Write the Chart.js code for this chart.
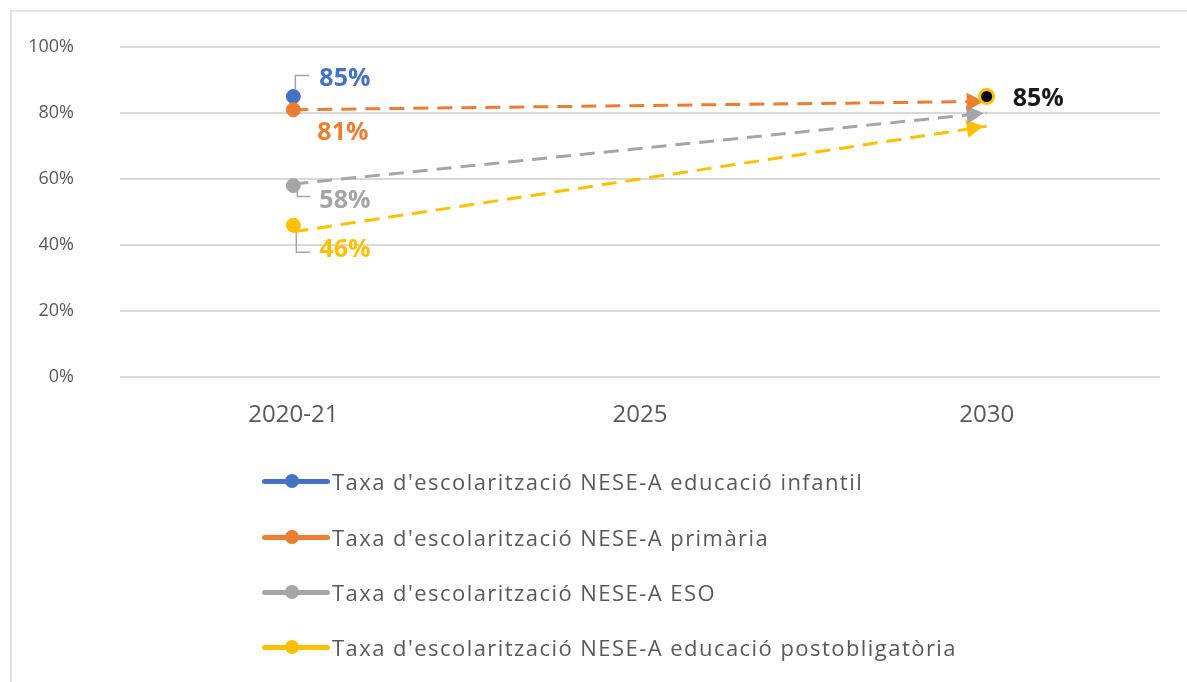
<!DOCTYPE html>
<html>
<head>
<meta charset="utf-8">
<script src="https://cdn.jsdelivr.net/npm/chart.js@4.4.1/dist/chart.umd.min.js"></script>
<style>
  html, body { margin: 0; padding: 0; background: #fff; }
  #wrap { position: relative; width: 1187px; height: 682px; overflow: hidden; }
  #frame { position: absolute; left: 10px; top: 10px; right: -5px; bottom: -5px; border-top: 2px solid #e3e3e3; border-left: 2px solid #e3e3e3; pointer-events: none; }
  #legend { position: absolute; left: 262px; top: 0; font-family: "Open Sans", sans-serif; font-size: 22px; letter-spacing: 1.45px; color: #595959; }
  .item { position: absolute; left: 0; height: 30px; display: flex; align-items: center; white-space: nowrap; }
  .mark { position: relative; width: 68px; height: 30px; margin-right: 2px; }
  .mark .ln { position: absolute; left: 0; right: 0; top: 13px; height: 5px; border-radius: 3px; }
  .mark .dt { position: absolute; left: 23px; top: 8px; width: 14px; height: 14px; border-radius: 50%; }
</style>
</head>
<body>
<div id="wrap">
  <canvas id="chart" width="1187" height="682"></canvas>
  <div id="frame"></div>
  <div id="legend"></div>
</div>
<script>
const categories = ['2020-21', '2025', '2030'];
const seriesNames = [
  "Taxa d'escolarització NESE-A educació infantil",
  "Taxa d'escolarització NESE-A primària",
  "Taxa d'escolarització NESE-A ESO",
  "Taxa d'escolarització NESE-A educació postobligatòria"
];
const seriesColors = ['#4472C4', '#ED7D31', '#A5A5A5', '#FFC000'];
// valors 2020-21
const values2021 = [85, 81, 58, 46];
// fletxes (primària, ESO, postobligatòria): inici 2020-21 i final 2030
const arrowStart = [81, 58.5, 44];
const arrowEnd = [83.5, 80, 76];
const arrowColors = ['#ED7D31', '#A5A5A5', '#FFC000'];
const target2030 = 85;
const yTicks = [0, 20, 40, 60, 80, 100];

// posicions de les etiquetes (desplaçament respecte del punt) i línies guia
const labelStyle = [
  { dx: 26, dy: -18, leader: [[2, -7], [2, -21], [16, -21]] },
  { dx: 24, dy: 23, leader: null },
  { dx: 26, dy: 15, leader: [[4, 5], [4, 11], [17, 11]] },
  { dx: 26, dy: 25, leader: [[3, 7], [3, 27], [17, 27]] }
];

const datasets = [];
values2021.forEach((v, i) => {
  datasets.push({
    label: seriesNames[i],
    data: [v, null, null],
    showLine: false,
    pointRadius: 7,
    pointHoverRadius: 7,
    pointBackgroundColor: seriesColors[i],
    pointBorderColor: seriesColors[i],
    borderColor: seriesColors[i],
    order: 1 + (values2021.length - i)
  });
});
arrowStart.forEach((v, i) => {
  datasets.push({
    label: 'arrow' + i,
    data: [v, null, arrowEnd[i]],
    spanGaps: true,
    borderColor: arrowColors[i],
    borderWidth: 3,
    borderDash: [15, 9],
    pointRadius: 0,
    isArrow: true,
    order: 10
  });
});
datasets.push({
  label: 'target',
  data: [null, null, target2030],
  showLine: false,
  pointRadius: 7,
  pointBackgroundColor: '#000',
  pointBorderColor: '#FFC000',
  pointBorderWidth: 3,
  order: 0
});

const arrowHeads = {
  id: 'arrowHeads',
  afterDatasetDraw(chart, args) {
    const ds = chart.data.datasets[args.index];
    if (!ds.isArrow) return;
    const pts = args.meta.data;
    const a = pts[0], b = pts[2];
    const ang = Math.atan2(b.y - a.y, b.x - a.x);
    const ctx = chart.ctx;
    ctx.save();
    ctx.translate(b.x - 3, b.y);
    ctx.rotate(ang);
    ctx.fillStyle = ds.borderColor;
    ctx.beginPath();
    ctx.moveTo(0, 0);
    ctx.lineTo(-17, -9);
    ctx.lineTo(-17, 9);
    ctx.closePath();
    ctx.fill();
    ctx.restore();
  }
};

const valueLabels = {
  id: 'valueLabels',
  afterDatasetsDraw(chart) {
    const ctx = chart.ctx;
    ctx.save();
    ctx.font = 'bold 25px "Open Sans", sans-serif';
    ctx.textBaseline = 'middle';
    ctx.textAlign = 'left';
    values2021.forEach((v, i) => {
      const p = chart.getDatasetMeta(i).data[0];
      const st = labelStyle[i];
      if (st.leader) {
        ctx.strokeStyle = '#A5A5A5';
        ctx.lineWidth = 1.5;
        ctx.beginPath();
        st.leader.forEach(([dx, dy], k) => {
          if (k === 0) ctx.moveTo(p.x + dx, p.y + dy);
          else ctx.lineTo(p.x + dx, p.y + dy);
        });
        ctx.stroke();
      }
      ctx.fillStyle = seriesColors[i];
      ctx.fillText(Math.round(v) + '%', p.x + st.dx, p.y + st.dy);
    });
    const t = chart.getDatasetMeta(datasets.length - 1).data[2];
    ctx.fillStyle = '#1a1a1a';
    ctx.fillText(target2030 + '%', t.x + 26, t.y + 2);
    ctx.restore();
  }
};

new Chart(document.getElementById('chart'), {
  type: 'line',
  data: { labels: categories, datasets },
  options: {
    responsive: false,
    animation: false,
    layout: { padding: { left: 0, right: 27, top: 47, bottom: 0 } },
    plugins: { legend: { display: false }, tooltip: { enabled: false } },
    scales: {
      x: {
        offset: true,
        grid: { display: false, drawTicks: false },
        border: { display: false },
        ticks: { color: '#595959', padding: 24, font: { family: 'Open Sans', size: 24 } },
        afterFit: s => { s.height = 305; }
      },
      y: {
        min: 0, max: 100,
        afterBuildTicks: s => { s.ticks = yTicks.map(v => ({ value: v })); },
        grid: { color: '#d9d9d9', lineWidth: 2, drawTicks: true, tickLength: 40, tickColor: 'rgba(0,0,0,0)' },
        border: { display: false },
        ticks: { color: '#595959', padding: 6, font: { family: 'Open Sans', size: 18 }, callback: v => v + '%' },
        afterFit: s => { s.width = 120; }
      }
    }
  },
  plugins: [arrowHeads, valueLabels]
});

// llegenda vertical
const legendRowsY = [481, 537, 592, 647];
const legend = document.getElementById('legend');
seriesNames.forEach((name, i) => {
  const row = document.createElement('div');
  row.className = 'item';
  row.style.top = (legendRowsY[i] - 15) + 'px';
  row.innerHTML = '<div class="mark"><div class="ln" style="background:' + seriesColors[i] + '"></div>' +
    '<div class="dt" style="background:' + seriesColors[i] + '"></div></div><span>' + name + '</span>';
  legend.appendChild(row);
});
</script>
</body>
</html>
